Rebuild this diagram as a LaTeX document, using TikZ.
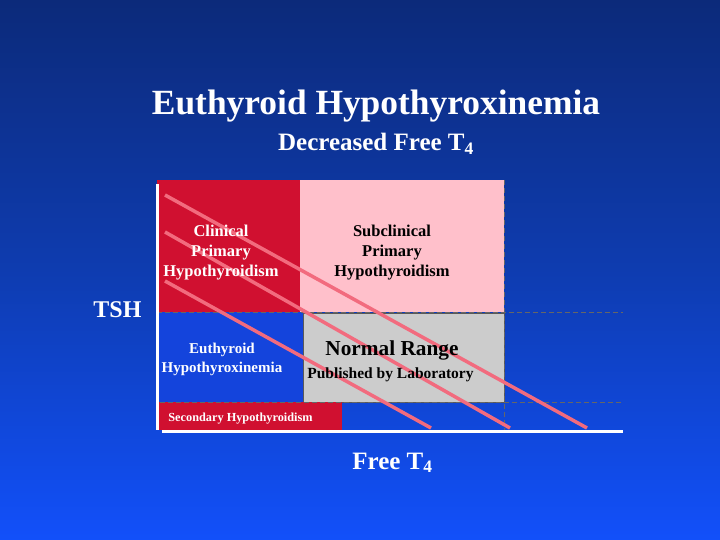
\documentclass[tikz,border=0pt]{standalone}
\usepackage{fontspec}
\setmainfont{Liberation Serif}
\begin{document}
\begin{tikzpicture}[x=1pt,y=-1pt,
  lbl/.style={font=\bfseries, text=white, inner sep=0pt},
  boxtxt/.style={align=center, inner sep=0pt, font=\fontsize{16.5}{20}\selectfont\bfseries},
  grid/.style={draw=gray!80!black, dashed, dash pattern=on 5pt off 3pt, line width=0.8pt},
  diag/.style={draw=diagpink, line width=3.5pt},
  axis/.style={draw=white, line width=3pt}]
\definecolor{bgtop}{HTML}{0C2A7A}
\definecolor{bgmid}{HTML}{0E3CB0}
\definecolor{bgbot}{HTML}{1250FA}
\definecolor{clinred}{HTML}{D01030}
\definecolor{subpink}{HTML}{FFC0CB}
\definecolor{normgray}{HTML}{CCCCCC}
\definecolor{euthblue}{HTML}{1444DC}
\definecolor{diagpink}{HTML}{F26B7E}
\useasboundingbox (0,0) rectangle (720,540);
\shade[top color=bgtop, bottom color=bgbot, middle color=bgmid] (0,0) rectangle (720,540);
% regions
\fill[clinred] (157,180) rectangle (300,312);
\fill[subpink] (300,180) rectangle (504,312);
\fill[euthblue] (157,312) rectangle (303,402);
\fill[normgray] (303,313) rectangle (504,402);
\draw[gray!70!black, line width=0.8pt] (303,313) rectangle (504,402);
\fill[clinred] (157,402) rectangle (342,430);
% dashed grid
\draw[grid] (157,312.5) -- (623,312.5);
\draw[grid] (160,402) -- (623,402);
\draw[grid] (504,180) -- (504,430);
% diagonal lines
\coordinate (d1a) at (165,195); \coordinate (d1b) at (587,428);
\coordinate (d2a) at (165,232); \coordinate (d2b) at (510,428);
\coordinate (d3a) at (165,281); \coordinate (d3b) at (431,428);
\draw[diag] (d1a) -- (d1b);
\draw[diag] (d2a) -- (d2b);
\draw[diag] (d3a) -- (d3b);
% axes
\coordinate (ytop) at (157,184); \coordinate (origin) at (157,430);
\coordinate (xstart) at (162,431.5); \coordinate (xend) at (623,431.5);
\draw[axis] (ytop) -- (origin);
\draw[axis] (xstart) -- (xend);
% texts
\node[lbl, anchor=base, font=\fontsize{35.4}{40}\selectfont\bfseries] (title) at (376,115) {Euthyroid Hypothyroxinemia};
\node[lbl, anchor=base, font=\fontsize{25}{28}\selectfont\bfseries] (subtitle) at (376,151) {Decreased Free T\textsubscript{4}};
\node[lbl, anchor=base, font=\fontsize{24}{26}\selectfont\bfseries] (tsh) at (117.5,317) {TSH};
\node[lbl, anchor=base, font=\fontsize{25}{28}\selectfont\bfseries] (freet4) at (392.5,469) {Free T\textsubscript{4}};
\node[boxtxt, text=white] (clin) at (221,253) {Clinical\\Primary\\Hypothyroidism};
\node[boxtxt, text=black] (subclin) at (392,253) {Subclinical\\Primary\\Hypothyroidism};
\node[boxtxt, text=white, font=\fontsize{15}{19}\selectfont\bfseries] (euth) at (222,359) {Euthyroid\\Hypothyroxinemia};
\node[inner sep=0pt, anchor=base, font=\fontsize{21.3}{24}\selectfont\bfseries] (normal) at (392,355) {Normal Range};
\node[inner sep=0pt, anchor=base, font=\fontsize{15.5}{18}\selectfont\bfseries] (publ) at (390.5,378) {Published by Laboratory};
\node[inner sep=0pt, anchor=base, text=white, font=\fontsize{12.3}{14}\selectfont\bfseries] (second) at (240.5,421) {Secondary Hypothyroidism};
\end{tikzpicture}
\end{document}
